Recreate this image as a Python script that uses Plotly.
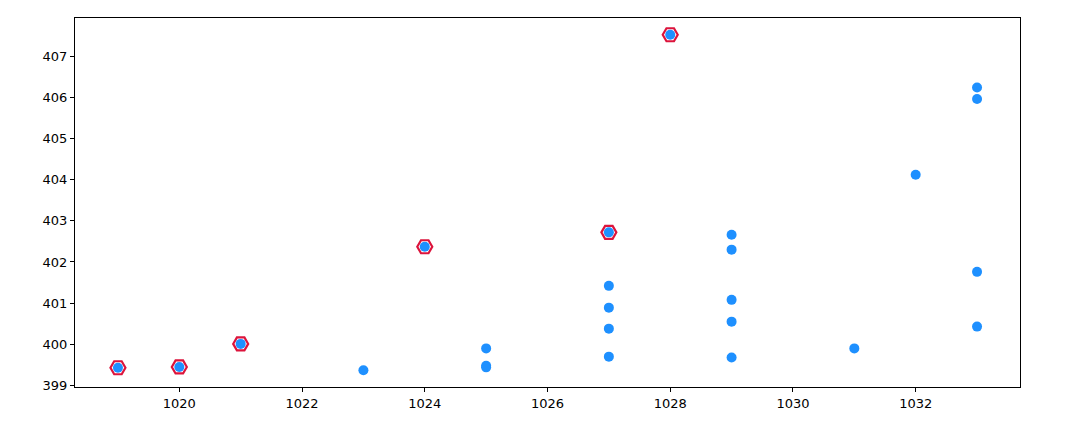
import plotly.graph_objects as go

# All observations
x_all = [1019, 1020, 1021, 1023, 1024, 1025, 1025, 1025,
         1027, 1027, 1027, 1027, 1027, 1028,
         1029, 1029, 1029, 1029, 1029, 1031, 1032,
         1033, 1033, 1033, 1033]
y_all = [399.43, 399.45, 400.01, 399.37, 402.37, 399.90, 399.48, 399.44,
         402.72, 401.42, 400.89, 400.38, 399.70, 407.52,
         402.66, 402.30, 401.08, 400.55, 399.68, 399.90, 404.12,
         406.24, 405.96, 401.76, 400.43]

# Highlighted (running best) points
x_best = [1019, 1020, 1021, 1024, 1027, 1028]
y_best = [399.43, 399.45, 400.01, 402.37, 402.72, 407.52]

def padded(vals, frac=0.05):
    lo, hi = min(vals), max(vals)
    p = (hi - lo) * frac
    return [lo - p, hi + p]

fig = go.Figure()
fig.add_trace(go.Scatter(
    x=x_best, y=y_best, mode="markers",
    marker=dict(symbol="hexagon2-open", size=15, color="#DC143C",
                line=dict(width=2.2, color="#DC143C")),
    showlegend=False, hoverinfo="x+y"))
fig.add_trace(go.Scatter(
    x=x_all, y=y_all, mode="markers",
    marker=dict(symbol="circle", size=10, color="#1E90FF", line=dict(width=0)),
    showlegend=False, hoverinfo="x+y"))

axis_common = dict(showline=True, linecolor="black", linewidth=1, mirror=True,
                   showgrid=False, zeroline=False, ticks="outside", ticklen=4,
                   tickwidth=1, tickcolor="black",
                   tickfont=dict(family="DejaVu Sans", size=13, color="black"))

fig.update_layout(
    width=1084, height=429,
    margin=dict(l=75, r=64, t=18, b=42),
    plot_bgcolor="white", paper_bgcolor="white",
    xaxis=dict(range=padded(x_all), tick0=1020, dtick=2, **axis_common),
    yaxis=dict(range=padded(y_all), tick0=399, dtick=1, **axis_common),
)
fig.write_html("out.html")
